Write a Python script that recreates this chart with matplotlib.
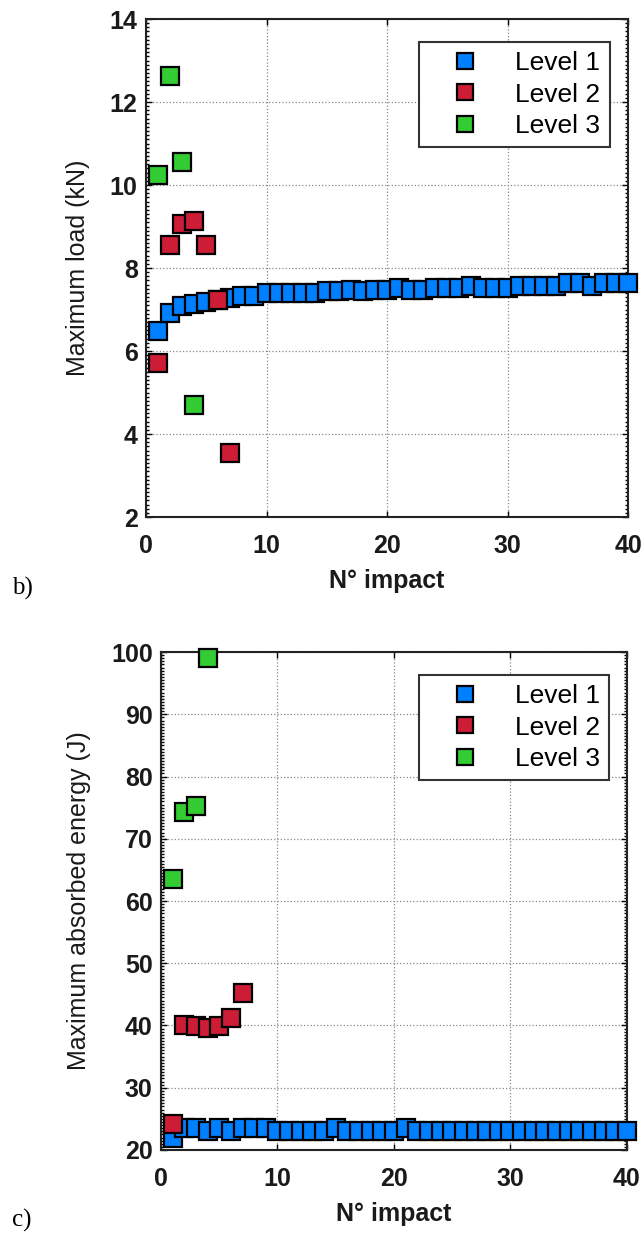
import matplotlib
matplotlib.use('Agg')
import matplotlib.pyplot as plt
from matplotlib.ticker import MultipleLocator

plt.rcParams['font.family'] = ['Liberation Sans', 'DejaVu Sans']

# ---- data ----
impact_l1 = list(range(1, 41))
impact_l2 = [1, 2, 3, 4, 5, 6, 7]
impact_l3 = [1, 2, 3, 4]

load_l1 = [6.48, 6.92, 7.08, 7.13, 7.18, 7.22, 7.28, 7.33, 7.33, 7.40,
           7.40, 7.40, 7.40, 7.40, 7.44, 7.44, 7.48, 7.44, 7.48, 7.48,
           7.53, 7.48, 7.48, 7.53, 7.53, 7.53, 7.57, 7.53, 7.53, 7.53,
           7.57, 7.57, 7.57, 7.57, 7.63, 7.63, 7.57, 7.63, 7.63, 7.63]
load_l2 = [5.71, 8.55, 9.06, 9.13, 8.55, 7.23, 3.54]
load_l3 = [10.24, 12.63, 10.55, 4.70]

energy_l1 = [22.0, 23.5, 23.5, 23.0, 23.5, 23.0, 23.5, 23.5, 23.5, 23.0,
             23.0, 23.0, 23.0, 23.0, 23.5, 23.0, 23.0, 23.0, 23.0, 23.0,
             23.5, 23.0, 23.0, 23.0, 23.0, 23.0, 23.0, 23.0, 23.0, 23.0,
             23.0, 23.0, 23.0, 23.0, 23.0, 23.0, 23.0, 23.0, 23.0, 23.0]
energy_l2 = [24.1, 40.1, 39.9, 39.6, 39.9, 41.2, 45.2]
energy_l3 = [63.5, 74.3, 75.2, 99.0]

level_labels = ['Level 1', 'Level 2', 'Level 3']
level_colors = ['#0080ff', '#cc1c36', '#33cc33']

FS = 18


def draw_panel(ax, series, ylim, ystep, yminor, ylabel):
    for (xs, ys), lab, col in zip(series, level_labels, level_colors):
        ax.plot(xs, ys, 's', ms=12.5, mfc=col, mec='black', mew=1.6,
                label=lab, clip_on=False, zorder=3)
    ax.set_xlim(0, 40)
    ax.set_ylim(*ylim)
    ax.xaxis.set_major_locator(MultipleLocator(10))
    ax.yaxis.set_major_locator(MultipleLocator(ystep))
    ax.yaxis.set_minor_locator(MultipleLocator(yminor))
    ax.grid(True, which='major', linestyle=':', color='#888888', lw=0.9)
    ax.tick_params(which='both', direction='in', top=True, right=True,
                   width=1.0)
    ax.tick_params(which='major', length=4)
    ax.tick_params(which='minor', length=2)
    ax.tick_params(axis='x', pad=12)
    ax.tick_params(axis='y', pad=6)
    for t in ax.get_xticklabels() + ax.get_yticklabels():
        t.set_fontsize(FS)
        t.set_fontweight('bold')
        t.set_color('#1a1a1a')
    for sp in ax.spines.values():
        sp.set_linewidth(1.5)
        sp.set_color('#222222')
    ax.set_xlabel('N\u00b0 impact', fontsize=FS, fontweight='bold',
                  color='#1a1a1a', labelpad=8)
    ax.set_ylabel(ylabel, fontsize=FS, color='#1a1a1a', labelpad=14)
    leg = ax.legend(loc='upper right', bbox_to_anchor=(0.962, 0.954),
                    fontsize=FS + 1, frameon=True, fancybox=False, framealpha=1,
                    edgecolor='#333333', handlelength=2.8, handletextpad=0.5,
                    borderpad=0.35, labelspacing=0.28, borderaxespad=0,
                    numpoints=1, markerscale=0.95)
    leg.get_frame().set_linewidth(1.5)


fig = plt.figure(figsize=(6.44, 12.34), dpi=100)
fig.patch.set_facecolor('white')

# panel b) maximum load
ax1 = fig.add_axes([0.2267, 0.581, 0.7485, 0.4036])
draw_panel(ax1,
           [(impact_l1, load_l1), (impact_l2, load_l2), (impact_l3, load_l3)],
           (2, 14), 2, 0.1, 'Maximum load (kN)')

# panel c) maximum absorbed energy
ax2 = fig.add_axes([0.25, 0.0681, 0.7236, 0.4035])
draw_panel(ax2,
           [(impact_l1, energy_l1), (impact_l2, energy_l2), (impact_l3, energy_l3)],
           (20, 100), 10, 0.5, 'Maximum absorbed energy (J)')

fig.text(0.018, 1 - 588 / 1234, 'b)', fontsize=FS, family='Liberation Serif',
         ha='left', va='center')
fig.text(0.018, 1 - 1220 / 1234, 'c)', fontsize=FS, family='Liberation Serif',
         ha='left', va='center')

fig.savefig('out.png', dpi=100, facecolor='white')
plt.close(fig)
